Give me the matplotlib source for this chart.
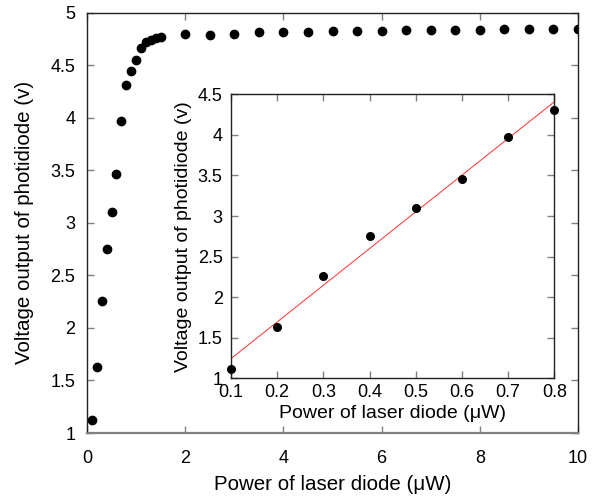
import matplotlib
matplotlib.use("Agg")
import matplotlib.pyplot as plt
import numpy as np

plt.rcParams["font.family"] = ["Liberation Sans", "DejaVu Sans"]
plt.rcParams["font.size"] = 13

# main curve: power of laser diode (uW) vs photodiode voltage (V)
power = [0.1, 0.2, 0.3, 0.4, 0.5, 0.6, 0.7, 0.8, 0.9, 1.0, 1.1, 1.2, 1.3, 1.4, 1.5,
         2.0, 2.5, 3.0, 3.5, 4.0, 4.5, 5.0, 5.5, 6.0, 6.5, 7.0, 7.5, 8.0, 8.5, 9.0, 9.5, 10.0]
voltage = [1.12, 1.63, 2.26, 2.75, 3.10, 3.46, 3.97, 4.31, 4.44, 4.55, 4.66, 4.72, 4.74, 4.76, 4.77,
           4.80, 4.79, 4.80, 4.81, 4.81, 4.81, 4.82, 4.82, 4.82, 4.83, 4.83, 4.83, 4.83, 4.84, 4.84, 4.84, 4.84]

# inset: linear region
lin_power = [0.1, 0.2, 0.3, 0.4, 0.5, 0.6, 0.7, 0.8]
lin_voltage = [1.12, 1.63, 2.26, 2.75, 3.10, 3.46, 3.97, 4.31]

xlabel = "Power of laser diode (\u03bcW)"
ylabel = "Voltage output of photidiode (v)"


def style_axes(ax, xpad, ypad):
    ax.tick_params(direction="in", top=True, right=True, color="#808080",
                   length=5, width=1, labelsize=13)
    ax.tick_params(axis="x", pad=xpad)
    ax.tick_params(axis="y", pad=ypad)
    for s in ax.spines.values():
        s.set_color("#222222")
        s.set_linewidth(1)


fig = plt.figure(figsize=(5.96, 4.98), dpi=100)

ax = fig.add_axes([87 / 596, 1 - 433 / 498, (578 - 87) / 596, (433 - 12.5) / 498])
ax.plot(power, voltage, "o", color="black", markersize=6)
ax.set_xlim(0, 10)
ax.set_ylim(1, 5)
ax.set_xticks([0, 2, 4, 6, 8, 10])
ax.set_yticks([1, 1.5, 2, 2.5, 3, 3.5, 4, 4.5, 5])
ax.set_yticklabels(["1", "1.5", "2", "2.5", "3", "3.5", "4", "4.5", "5"])
ax.set_xlabel(xlabel, fontsize=14.8, labelpad=6)
ax.set_ylabel(ylabel, fontsize=14.8, labelpad=12)
style_axes(ax, 12, 8.5)
ax.spines["bottom"].set_color("#808080")
ax.spines["bottom"].set_linewidth(1.6)

axin = fig.add_axes([231 / 596, 1 - 378.3 / 498, (554.3 - 231) / 596, (378.3 - 94.3) / 498])
slope, icpt = np.polyfit(lin_power, lin_voltage, 1)
xs = np.array([0.1, 0.8])
axin.plot(xs, slope * xs + icpt, color="#ff3030", linewidth=0.7)
axin.plot(lin_power, lin_voltage, "o", color="black", markersize=5.5, clip_on=False, zorder=3)
axin.set_xlim(0.1, 0.8)
axin.set_ylim(1, 4.5)
axin.set_xticks([0.1, 0.2, 0.3, 0.4, 0.5, 0.6, 0.7, 0.8])
axin.set_yticks([1, 1.5, 2, 2.5, 3, 3.5, 4, 4.5])
axin.set_yticklabels(["1", "1.5", "2", "2.5", "3", "3.5", "4", "4.5"])
axin.set_xlabel(xlabel, fontsize=14, labelpad=3)
axin.set_ylabel(ylabel, fontsize=14, labelpad=4)
style_axes(axin, 4, 6)

fig.savefig("out.png", dpi=100)
